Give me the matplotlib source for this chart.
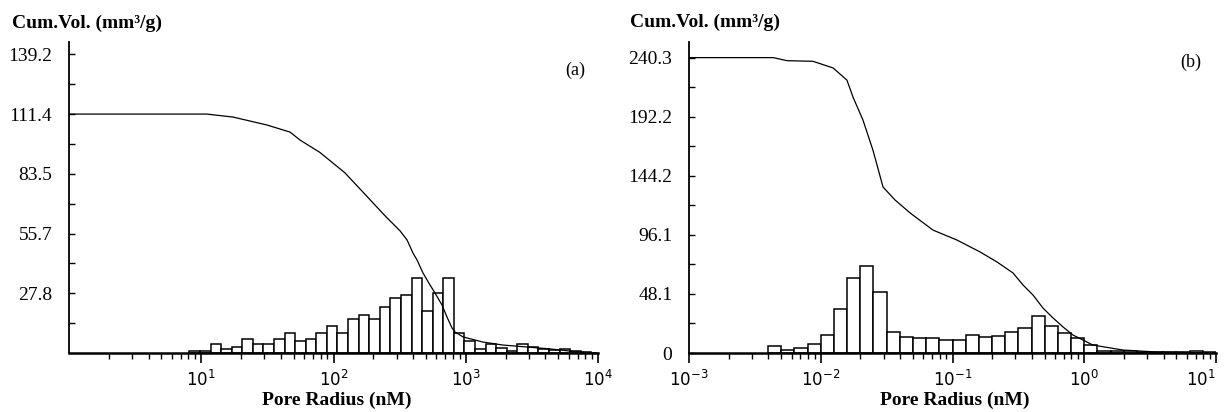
#!/usr/bin/env python3

import math
import matplotlib
matplotlib.use("Agg")
import matplotlib.pyplot as plt
from matplotlib.ticker import FixedLocator, LogLocator, NullFormatter

"""
Pore size distribution: cumulative volume curve + incremental histogram,
two samples (a) and (b)
"""

# ---- panel (a) ----
edges_a = [8.13, 9.77, 11.75, 14.13, 16.98, 20.42, 24.55, 29.51, 35.48, 42.66,
           51.29, 61.66, 74.13, 89.13, 107.2, 128.8, 154.9, 186.2, 223.9, 269.2,
           323.6, 389.0, 467.7, 562.3, 676.1, 812.8, 977.2, 1175, 1413, 1698,
           2042, 2455, 2951, 3548, 4266, 5129, 6166, 7413, 8913]
counts_a = [0.8, 0.9, 4.4, 1.9, 3.0, 6.7, 4.4, 4.4, 6.5, 9.5,
            5.6, 6.7, 9.5, 12.4, 9.3, 15.9, 17.6, 15.9, 21.4, 25.6,
            27.0, 35.1, 19.6, 28.0, 35.1, 9.3, 5.4, 2.0, 4.2, 2.2,
            1.1, 4.2, 2.8, 2.0, 1.6, 1.9, 0.8, 0.3]
radius_a = [1.0, 11.0, 17.4, 31.4, 46.9, 55.8, 79, 122, 173, 245, 318, 360,
            399, 428, 475, 537, 585, 661, 721, 787, 829, 954, 1350, 1914,
            2904, 4336, 6139, 8255, 10000]
cumvol_a = [111.4, 111.4, 110.0, 106.3, 103.0, 99.3, 93.5, 84, 74, 64, 57, 52.7,
            46.6, 43.4, 37.3, 31.7, 28.0, 22.4, 16.8, 11.7, 9.8, 7.5, 5.1, 3.7,
            2.8, 1.9, 0.9, 0.2, 0.0]
yticks_a = [27.84, 55.68, 83.52, 111.36, 139.2]
ylabels_a = ["27.8", "55.7", "83.5", "111.4", "139.2"]

# ---- panel (b) ----
edges_b = [0.00398, 0.00501, 0.00631, 0.00794, 0.01, 0.01259, 0.01585, 0.01995,
           0.02512, 0.03162, 0.03981, 0.05012, 0.0631, 0.07943, 0.1, 0.1259,
           0.1585, 0.1995, 0.2512, 0.3162, 0.3981, 0.5012, 0.631, 0.7943, 1.0,
           1.259, 1.585, 1.995, 2.512, 3.162, 3.981, 5.012, 6.31, 7.943, 10.0]
counts_b = [5.7, 2.2, 4.1, 7.6, 14.4, 35.8, 61.3, 71.1, 49.6, 17.1,
            13.0, 11.9, 11.9, 10.3, 10.3, 14.4, 13.3, 13.8, 17.4, 20.1,
            29.8, 21.7, 16.3, 12.5, 6.5, 1.6, 1.6, 1.6, 0.8, 0.8,
            0.5, 0.5, 1.6, 0.5]
radius_b = [0.001, 0.00435, 0.00555, 0.00873, 0.0124, 0.0158, 0.0176, 0.0209,
            0.0249, 0.0297, 0.0366, 0.0477, 0.0711, 0.108, 0.162, 0.218, 0.288,
            0.343, 0.408, 0.486, 0.569, 0.690, 0.822, 0.977, 1.16, 1.97, 3.56, 10.0]
cumvol_b = [240.3, 240.3, 237.8, 237.3, 231.9, 222, 208, 189.6, 165, 135, 124.5,
            113.9, 100, 91.9, 82.2, 74.0, 65.1, 55.3, 47.2, 36.6, 29.3, 21.2, 14.6,
            10.6, 6.5, 2.4, 0.8, 0.0]
yticks_b = [0, 48.06, 96.12, 144.18, 192.24, 240.3]
ylabels_b = ["0", "48.1", "96.1", "144.2", "192.2", "240.3"]

SERIF = "Liberation Serif"


def draw_panel(ax, edges, counts, radius, cumvol, yticks, ylabels, xlim, ylim, decades):
    lefts = edges[:-1]
    widths = [edges[i + 1] - edges[i] for i in range(len(counts))]
    ax.bar(lefts, counts, width=widths, align="edge", color="white",
           edgecolor="black", linewidth=1.1, zorder=2)
    ax.plot(radius, cumvol, color="black", linewidth=0.9, zorder=3)

    ax.set_xscale("log")
    ax.set_xlim(*xlim)
    ax.set_ylim(*ylim)

    for side in ("top", "right"):
        ax.spines[side].set_visible(False)
    ax.spines["left"].set_linewidth(1.3)
    ax.spines["bottom"].set_linewidth(1.8)

    ax.xaxis.set_major_locator(FixedLocator(decades))
    ax.xaxis.set_minor_locator(LogLocator(base=10, subs=range(2, 10)))
    ax.xaxis.set_minor_formatter(NullFormatter())
    ax.set_xticklabels(["$10^{%d}$" % round(math.log10(d)) for d in decades])
    ax.tick_params(axis="x", which="major", direction="out", length=7, width=1.2,
                   pad=5, labelsize=12)
    ax.tick_params(axis="x", which="minor", direction="out", length=4, width=1.0)

    ax.set_yticks(yticks)
    ax.set_yticklabels(ylabels, fontfamily=SERIF, fontsize=14)
    mids = [(yticks[i] + yticks[i + 1]) / 2 for i in range(len(yticks) - 1)]
    if yticks[0] > 0:
        mids = [yticks[0] / 2] + mids
    ax.yaxis.set_minor_locator(FixedLocator(mids))
    ax.tick_params(axis="y", which="both", direction="in", length=4, width=1.0, pad=12)


def main():
    fig = plt.figure(figsize=(12.26, 4.12), dpi=100)
    W, H = 1226.0, 412.0

    ax_a = fig.add_axes([69 / W, 59 / H, 529 / W, 311 / H])
    draw_panel(ax_a, edges_a, counts_a, radius_a, cumvol_a, yticks_a, ylabels_a,
               (1.0, 1e4), (0, 145), [10, 100, 1000, 10000])

    ax_b = fig.add_axes([689 / W, 59 / H, 527 / W, 311 / H])
    draw_panel(ax_b, edges_b, counts_b, radius_b, cumvol_b, yticks_b, ylabels_b,
               (1e-3, 10), (0, 253), [1e-3, 1e-2, 1e-1, 1e0, 1e1])
    # last label sits at the right edge of the figure: keep it inside
    ax_b.get_xticklabels()[-1].set_horizontalalignment("right")

    bold = dict(fontfamily=SERIF, fontweight="bold", fontsize=14)
    fig.text(12 / W, 1 - 23 / H, "Cum.Vol. (mm³/g)", ha="left", va="center", **bold)
    fig.text(630 / W, 1 - 22 / H, "Cum.Vol. (mm³/g)", ha="left", va="center", **bold)
    fig.text(337 / W, 1 - 400 / H, "Pore Radius (nM)", ha="center", va="center", **bold)
    fig.text(955 / W, 1 - 400 / H, "Pore Radius (nM)", ha="center", va="center", **bold)

    fig.text(575 / W, 1 - 70 / H, "(a)", ha="center", va="center",
             fontfamily=SERIF, fontsize=13)
    fig.text(1191 / W, 1 - 62 / H, "(b)", ha="center", va="center",
             fontfamily=SERIF, fontsize=13)

    fig.savefig("out.png", dpi=100)


if __name__ == "__main__":
    main()
